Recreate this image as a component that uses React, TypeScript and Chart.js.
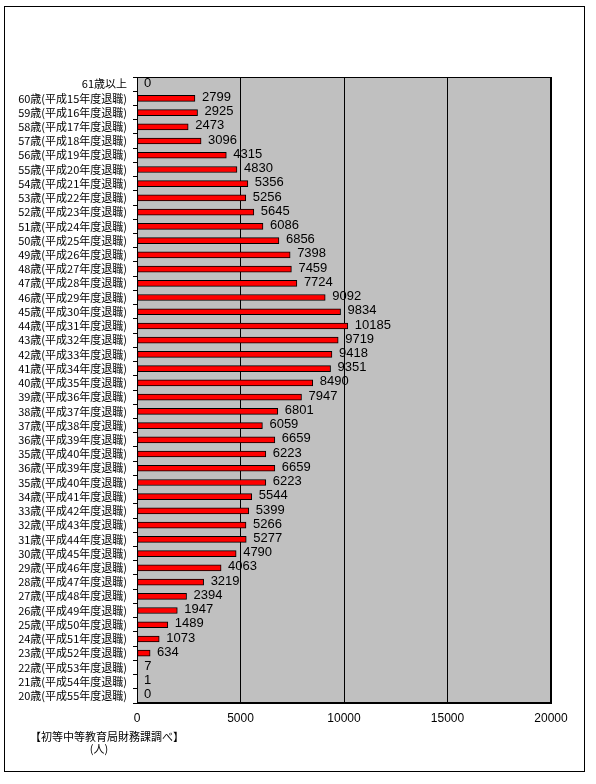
import React, { useEffect, useRef } from "react";
import { Chart, registerables } from "chart.js";

Chart.register(...registerables);

const categories: string[] = [
  "61歳以上",
  "60歳(平成15年度退職)",
  "59歳(平成16年度退職)",
  "58歳(平成17年度退職)",
  "57歳(平成18年度退職)",
  "56歳(平成19年度退職)",
  "55歳(平成20年度退職)",
  "54歳(平成21年度退職)",
  "53歳(平成22年度退職)",
  "52歳(平成23年度退職)",
  "51歳(平成24年度退職)",
  "50歳(平成25年度退職)",
  "49歳(平成26年度退職)",
  "48歳(平成27年度退職)",
  "47歳(平成28年度退職)",
  "46歳(平成29年度退職)",
  "45歳(平成30年度退職)",
  "44歳(平成31年度退職)",
  "43歳(平成32年度退職)",
  "42歳(平成33年度退職)",
  "41歳(平成34年度退職)",
  "40歳(平成35年度退職)",
  "39歳(平成36年度退職)",
  "38歳(平成37年度退職)",
  "37歳(平成38年度退職)",
  "36歳(平成39年度退職)",
  "35歳(平成40年度退職)",
  "36歳(平成39年度退職)",
  "35歳(平成40年度退職)",
  "34歳(平成41年度退職)",
  "33歳(平成42年度退職)",
  "32歳(平成43年度退職)",
  "31歳(平成44年度退職)",
  "30歳(平成45年度退職)",
  "29歳(平成46年度退職)",
  "28歳(平成47年度退職)",
  "27歳(平成48年度退職)",
  "26歳(平成49年度退職)",
  "25歳(平成50年度退職)",
  "24歳(平成51年度退職)",
  "23歳(平成52年度退職)",
  "22歳(平成53年度退職)",
  "21歳(平成54年度退職)",
  "20歳(平成55年度退職)",
];

const values: number[] = [
  0, 2799, 2925, 2473, 3096, 4315, 4830, 5356, 5256, 5645, 6086, 6856, 7398,
  7459, 7724, 9092, 9834, 10185, 9719, 9418, 9351, 8490, 7947, 6801, 6059,
  6659, 6223, 6659, 6223, 5544, 5399, 5266, 5277, 4790, 4063, 3219, 2394,
  1947, 1489, 1073, 634, 7, 1, 0,
];

const xTicks: number[] = [0, 5000, 10000, 15000, 20000];

const sourceNote = "【初等中等教育局財務課調べ】";
const unitNote = "(人)";

const JP = '"Noto Sans CJK JP", sans-serif';
const NUM = '"Liberation Sans", Arial, sans-serif';

export default function App() {
  const ref = useRef<HTMLCanvasElement | null>(null);

  useEffect(() => {
    document.body.style.margin = "0";
    const canvas = ref.current;
    if (!canvas) return;

    const frame = {
      id: "frame",
      beforeDraw(chart: any) {
        const { ctx, chartArea } = chart;
        ctx.save();
        ctx.fillStyle = "#ffffff";
        ctx.fillRect(0, 0, chart.width, chart.height);
        ctx.fillStyle = "#c0c0c0";
        ctx.fillRect(
          chartArea.left,
          chartArea.top,
          chartArea.right - chartArea.left,
          chartArea.bottom - chartArea.top
        );
        ctx.restore();
      },
      afterDraw(chart: any) {
        const { ctx, chartArea, scales } = chart;
        ctx.save();
        ctx.strokeStyle = "#000000";
        ctx.lineWidth = 1;
        ctx.strokeRect(
          Math.round(chartArea.left) + 0.5,
          Math.round(chartArea.top) + 0.5,
          Math.round(chartArea.right - chartArea.left) - 1,
          Math.round(chartArea.bottom - chartArea.top) - 1
        );
        ctx.fillStyle = "#000000";
        ctx.font = `13px ${NUM}`;
        ctx.textAlign = "left";
        ctx.textBaseline = "middle";
        values.forEach((v, i) => {
          const x = scales.x.getPixelForValue(v);
          const y = scales.y.getPixelForValue(i);
          ctx.fillText(String(v), x + 7, y - 1);
        });
        ctx.strokeRect(4.5, 6.5, 580, 765);
        ctx.font = `11px ${JP}`;
        ctx.textAlign = "left";
        ctx.fillText(sourceNote, 30, 737);
        ctx.textAlign = "center";
        ctx.fillText(unitNote, 99, 749);
        ctx.restore();
      },
    };

    const chart = new Chart(canvas, {
      type: "bar",
      data: {
        labels: categories,
        datasets: [
          {
            data: values,
            backgroundColor: "#ff0000",
            borderColor: "#000000",
            borderWidth: (c: any) => (values[c.dataIndex] === 0 ? 0 : 1),
            borderSkipped: false,
            barThickness: 6,
          },
        ],
      },
      options: {
        indexAxis: "y",
        animation: false,
        responsive: false,
        maintainAspectRatio: false,
        layout: { padding: { top: 77, right: 45, left: 0, bottom: 0 } },
        plugins: {
          legend: { display: false },
          tooltip: { enabled: false },
          title: { display: false },
        },
        scales: {
          x: {
            type: "linear",
            min: 0,
            max: 20000,
            afterBuildTicks: (axis: any) => {
              axis.ticks = xTicks.map((v) => ({ value: v }));
            },
            afterFit: (axis: any) => {
              axis.height = 81;
            },
            grid: {
              color: "#000000",
              lineWidth: 1,
              drawTicks: false,
            },
            border: { display: true, color: "#000000" },
            ticks: {
              color: "#000000",
              font: { family: NUM, size: 12 },
              padding: 8,
              maxRotation: 0,
              callback: (v: any) => String(v),
            },
          },
          y: {
            type: "category",
            afterFit: (axis: any) => {
              axis.width = 137;
            },
            grid: {
              drawOnChartArea: false,
              drawTicks: true,
              tickLength: 4,
              color: "#000000",
              offset: true,
            },
            border: { display: true, color: "#000000" },
            ticks: {
              color: "#000000",
              autoSkip: false,
              font: { family: JP, size: 11 },
              padding: 6,
            },
          },
        },
      },
      plugins: [frame],
    } as any);

    return () => chart.destroy();
  }, []);

  return (
    <div style={{ width: 596, height: 784 }}>
      <canvas ref={ref} width={596} height={784} style={{ display: "block" }} />
    </div>
  );
}
